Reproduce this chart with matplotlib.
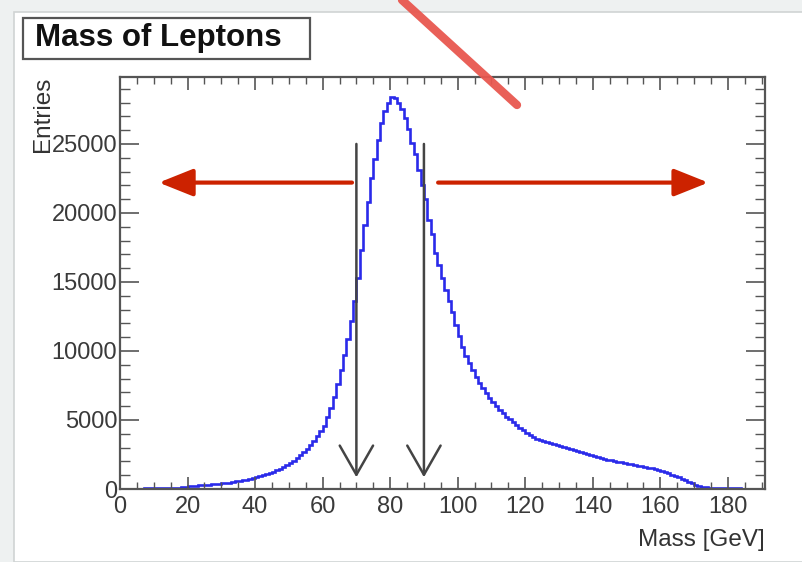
import numpy as np
import matplotlib
matplotlib.use("Agg")
import matplotlib.pyplot as plt
from matplotlib.patches import Rectangle
from matplotlib.lines import Line2D

plt.rcParams['font.family'] = ['Liberation Sans', 'DejaVu Sans']

# histogram: 1 GeV bins from 0 to 190
bin_edges = np.arange(0, 191, 1)
entries = [
    0, 0, 0, 0, 0, 0, 0, 40, 50, 55,
    60, 65, 70, 75, 80, 85, 90, 100, 110, 130,
    200, 220, 240, 260, 280, 300, 320, 340, 360, 380,
    400, 430, 470, 510, 550, 590, 630, 680, 740, 800,
    860, 930, 1000, 1080, 1160, 1250, 1350, 1460, 1580, 1720,
    1880, 2050, 2250, 2450, 2680, 2930, 3200, 3500, 3820, 4180,
    4600, 5200, 5900, 6700, 7600, 8600, 9700, 10900, 12200, 13600,
    15300, 17300, 19100, 20800, 22500, 23900, 25300, 26500, 27400, 28000,
    28400, 28300, 28000, 27500, 26900, 26100, 25100, 24300, 23100, 22000,
    21000, 19500, 18500, 17100, 16200, 15300, 14400, 13600, 12800, 11900,
    11100, 10300, 9600, 9100, 8600, 8100, 7700, 7300, 6950, 6600,
    6300, 6000, 5750, 5500, 5250, 5050, 4850, 4650, 4450, 4250,
    4050, 3900, 3750, 3650, 3550, 3450, 3400, 3330, 3250, 3180,
    3100, 3030, 2960, 2890, 2820, 2750, 2680, 2600, 2530, 2460,
    2390, 2320, 2250, 2190, 2130, 2080, 2020, 1970, 1920, 1870,
    1820, 1780, 1740, 1690, 1640, 1590, 1540, 1490, 1430, 1370,
    1300, 1220, 1140, 1050, 960, 860, 750, 630, 510, 400,
    300, 220, 160, 120, 100, 90, 80, 70, 60, 60,
    50, 50, 40, 40, 30, 20, 0, 0, 0, 0,
]

# cut markers (GeV) and annotation levels
cut_low, cut_high = 70, 90
cut_arrow_top, cut_arrow_tip = 25000, 850
side_arrow_y = 22200
left_arrow = (68.7, 11.5)
right_arrow = (94.2, 174.2)

x_ticks = np.arange(0, 181, 20)
y_ticks = np.arange(0, 25001, 5000)

W, H = 803, 562
fig = plt.figure(figsize=(W / 100, H / 100), dpi=100, facecolor='#eef1f1')

# white canvas
fig.patches.append(Rectangle((14 / W, 0), 1 - 14 / W, 1 - 12 / H,
                             transform=fig.transFigure, facecolor='white',
                             edgecolor='#d0d4d4', linewidth=1.2, zorder=-5))

ax = fig.add_axes([120 / W, 1 - 489 / H, 645 / W, 412 / H])
ax.set_zorder(1)
ax.stairs(entries, bin_edges, color='#2a2aea', linewidth=1.9)

ax.set_xlim(0, 191)
ax.set_ylim(0, 29850)
ax.set_xticks(x_ticks)
ax.set_xticks(np.arange(0, 191, 5), minor=True)
ax.set_yticks(y_ticks)
ax.set_yticks(np.arange(0, 29001, 1000), minor=True)

for s in ax.spines.values():
    s.set_color('#555555')
    s.set_linewidth(1.6)

ax.tick_params(axis='both', which='both', direction='in', top=True, right=True,
               colors='#555555', labelcolor='#3a3a3a', labelsize=17)
ax.tick_params(axis='x', which='major', length=9, width=1.2, pad=5)
ax.tick_params(axis='x', which='minor', length=5, width=1.0)
ax.tick_params(axis='y', which='major', length=14, width=1.2, pad=2)
ax.tick_params(axis='y', which='minor', length=7, width=1.0)

# cut arrows
for xc in (cut_low, cut_high):
    ax.annotate('', xy=(xc, cut_arrow_tip), xytext=(xc, cut_arrow_top),
                arrowprops=dict(arrowstyle='->,head_length=1.05,head_width=0.6',
                                mutation_scale=20, color='#444444', lw=1.8,
                                shrinkA=0, shrinkB=0))

# red side arrows
for x0, x1 in (left_arrow, right_arrow):
    ax.annotate('', xy=(x1, side_arrow_y), xytext=(x0, side_arrow_y),
                arrowprops=dict(arrowstyle='-|>,head_length=1.05,head_width=0.42',
                                mutation_scale=20, color='#cc2200', lw=3.0,
                                shrinkA=0, shrinkB=0))

# title box
fig.patches.append(Rectangle((23 / W, 1 - 59 / H), 287 / W, 41 / H,
                             transform=fig.transFigure, facecolor='white',
                             edgecolor='#555555', linewidth=1.6, zorder=2))
fig.text(35 / W, 1 - 38 / H, 'Mass of Leptons', fontsize=22.5,
         fontweight='bold', color='#111111', ha='left', va='center', zorder=3)

fig.text(43 / W, 1 - 77 / H, 'Entries', rotation=90, fontsize=17.5,
         color='#333333', ha='center', va='top')
fig.text(765 / W, 1 - 540 / H, 'Mass [GeV]', fontsize=17.5,
         color='#333333', ha='right', va='center')

# red pen stroke across the top
fig.add_artist(Line2D([402 / W, 517 / W], [1.0, 1 - 105 / H],
                      transform=fig.transFigure, color='#e8574f', lw=6,
                      alpha=0.95, solid_capstyle='round', zorder=5))

fig.savefig('out.png', dpi=100, facecolor=fig.get_facecolor())
